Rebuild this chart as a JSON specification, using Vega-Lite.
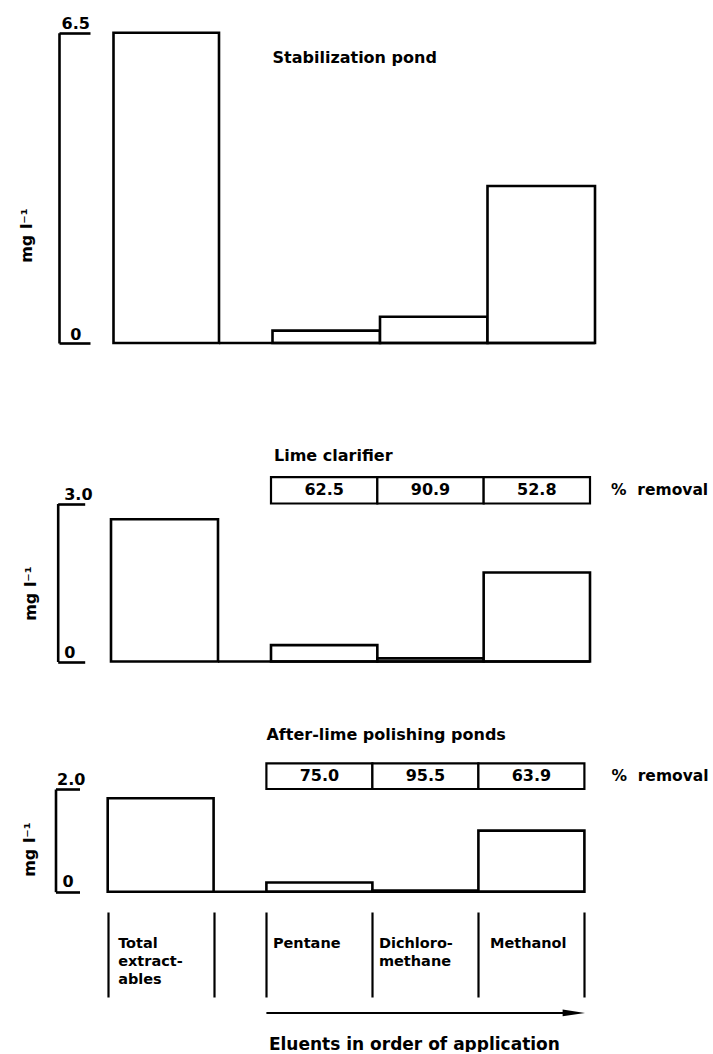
{
  "$schema": "https://vega.github.io/schema/vega-lite/v6.json",
  "padding": 0,
  "spacing": 0,
  "config": {
    "view": {"stroke": null},
    "text": {"font": "DejaVu Sans", "fontWeight": "bold", "color": "black"},
    "axis": {"labelFont": "DejaVu Sans", "titleFont": "DejaVu Sans", "labelFontWeight": "bold", "titleFontWeight": "bold", "labelColor": "black", "titleColor": "black", "tickColor": "black", "domainColor": "black", "grid": false}
  },
  "datasets": {
    "bars": [
      {"panel": "Stabilization pond", "fraction": "Total extractables", "value": 6.5},
      {"panel": "Stabilization pond", "fraction": "Pentane", "value": 0.26},
      {"panel": "Stabilization pond", "fraction": "Dichloromethane", "value": 0.55},
      {"panel": "Stabilization pond", "fraction": "Methanol", "value": 3.29},
      {"panel": "Lime clarifier", "fraction": "Total extractables", "value": 2.7},
      {"panel": "Lime clarifier", "fraction": "Pentane", "value": 0.31},
      {"panel": "Lime clarifier", "fraction": "Dichloromethane", "value": 0.06},
      {"panel": "Lime clarifier", "fraction": "Methanol", "value": 1.69},
      {"panel": "After-lime polishing ponds", "fraction": "Total extractables", "value": 1.82},
      {"panel": "After-lime polishing ponds", "fraction": "Pentane", "value": 0.18},
      {"panel": "After-lime polishing ponds", "fraction": "Dichloromethane", "value": 0.02},
      {"panel": "After-lime polishing ponds", "fraction": "Methanol", "value": 1.19}
    ],
    "removal": [
      {"panel": "Lime clarifier", "fraction": "Pentane", "removal": 62.5},
      {"panel": "Lime clarifier", "fraction": "Dichloromethane", "removal": 90.9},
      {"panel": "Lime clarifier", "fraction": "Methanol", "removal": 52.8},
      {"panel": "After-lime polishing ponds", "fraction": "Pentane", "removal": 75.0},
      {"panel": "After-lime polishing ponds", "fraction": "Dichloromethane", "removal": 95.5},
      {"panel": "After-lime polishing ponds", "fraction": "Methanol", "removal": 63.9}
    ]
  },
  "vconcat": [
    {
      "spacing": 0,
      "bounds": "flush",
      "hconcat": [
        {
          "width": 219,
          "height": 400,
          "data": {"name": "bars"},
          "transform": [{"filter": "datum.panel == 'Stabilization pond' && datum.fraction == 'Total extractables'"}],
          "mark": {"type": "bar", "fill": "white", "stroke": "black", "strokeWidth": 2.6},
          "encoding": {
            "x": {"field": "fraction", "type": "nominal", "scale": {"domain": ["Total extractables"], "range": [113.5, 219], "paddingInner": 0, "paddingOuter": 0}, "axis": null},
            "y": {"field": "value", "type": "quantitative", "scale": {"domain": [0, 6.5], "range": [343, 32.7], "nice": false},
              "axis": {"orient": "left", "offset": -59, "values": [0, 6.5], "labelExpr": "datum.value == 0 ? '\u200b\u00a0\u20090' : format(datum.value, '.1f')", "labelAlign": "left", "labelBaseline": "alphabetic", "labelPadding": 29, "labelOffset": -4, "labelFlush": false, "labelOverlap": false, "labelBound": false, "labelFontSize": 16, "tickSize": -31, "tickWidth": 2.6, "domainWidth": 2.6, "title": "mg l⁻¹", "titleX": -33, "titleY": 235, "titleAngle": 270, "titleAlign": "center", "titleBaseline": "middle", "titleFontSize": 16}}
          }
        },
        {
          "width": 376,
          "height": 400,
          "layer": [
            {
              "data": {"name": "bars"},
              "transform": [{"filter": "datum.panel == 'Stabilization pond' && datum.fraction != 'Total extractables'"}],
              "mark": {"type": "bar", "fill": "white", "stroke": "black", "strokeWidth": 2.6},
              "encoding": {
                "x": {"field": "fraction", "type": "nominal", "scale": {"domain": ["Pentane", "Dichloromethane", "Methanol"], "range": [53.5, 376], "paddingInner": 0, "paddingOuter": 0}, "axis": null},
                "y": {"field": "value", "type": "quantitative", "scale": {"domain": [0, 6.5], "range": [343, 32.7], "nice": false}, "axis": null}
              }
            },
            {
              "data": {"values": [{}]},
              "mark": {"type": "rule", "color": "black", "strokeWidth": 2.6},
              "encoding": {
                "y": {"datum": 0, "type": "quantitative", "scale": {"domain": [0, 6.5], "range": [343, 32.7], "nice": false}, "axis": null}
              }
            },
            {
              "data": {"values": [{}]},
              "mark": {"type": "text", "text": "Stabilization pond", "align": "left", "baseline": "alphabetic", "fontSize": 16},
              "encoding": {
                "x": {"datum": "Pentane", "type": "nominal", "bandPosition": 0, "scale": {"domain": ["Pentane", "Dichloromethane", "Methanol"], "range": [53.5, 376], "paddingInner": 0, "paddingOuter": 0}, "axis": null},
                "y": {"datum": 5.865, "type": "quantitative", "scale": {"domain": [0, 6.5], "range": [343, 32.7], "nice": false}, "axis": null}
              }
            }
          ]
        }
      ]
    },
    {
      "spacing": 0,
      "bounds": "flush",
      "hconcat": [
        {
          "width": 218,
          "height": 300,
          "data": {"name": "bars"},
          "transform": [{"filter": "datum.panel == 'Lime clarifier' && datum.fraction == 'Total extractables'"}],
          "mark": {"type": "bar", "fill": "white", "stroke": "black", "strokeWidth": 2.6},
          "encoding": {
            "x": {"field": "fraction", "type": "nominal", "scale": {"domain": ["Total extractables"], "range": [111, 218], "paddingInner": 0, "paddingOuter": 0}, "axis": null},
            "y": {"field": "value", "type": "quantitative", "scale": {"domain": [0, 3], "range": [261.5, 103.5], "nice": false},
              "axis": {"orient": "left", "offset": -57.7, "values": [0, 3], "labelExpr": "datum.value == 0 ? '0' : format(datum.value, '.1f')", "labelAlign": "left", "labelBaseline": "alphabetic", "labelPadding": 21, "labelOffset": -4.5, "labelFlush": false, "labelOverlap": false, "labelBound": false, "labelFontSize": 16, "tickSize": -27, "tickWidth": 2.6, "domainWidth": 2.6, "title": "mg l⁻¹", "titleX": -27, "titleY": 193, "titleAngle": 270, "titleAlign": "center", "titleBaseline": "middle", "titleFontSize": 16}}
          }
        },
        {
          "width": 372,
          "height": 300,
          "layer": [
            {
              "data": {"name": "bars"},
              "transform": [{"filter": "datum.panel == 'Lime clarifier' && datum.fraction != 'Total extractables'"}],
              "mark": {"type": "bar", "fill": "white", "stroke": "black", "strokeWidth": 2.6},
              "encoding": {
                "x": {"field": "fraction", "type": "nominal", "scale": {"domain": ["Pentane", "Dichloromethane", "Methanol"], "range": [53, 372], "paddingInner": 0, "paddingOuter": 0}, "axis": null},
                "y": {"field": "value", "type": "quantitative", "scale": {"domain": [0, 3], "range": [261.5, 103.5], "nice": false}, "axis": null}
              }
            },
            {
              "data": {"values": [{}]},
              "mark": {"type": "rule", "color": "black", "strokeWidth": 2.6},
              "encoding": {
                "y": {"datum": 0, "type": "quantitative", "scale": {"domain": [0, 3], "range": [261.5, 103.5], "nice": false}, "axis": null}
              }
            },
            {
              "data": {"values": [{}]},
              "mark": {"type": "text", "text": "Lime clarifier", "align": "left", "baseline": "alphabetic", "fontSize": 16, "dx": 3},
              "encoding": {
                "x": {"datum": "Pentane", "type": "nominal", "bandPosition": 0, "scale": {"domain": ["Pentane", "Dichloromethane", "Methanol"], "range": [53, 372], "paddingInner": 0, "paddingOuter": 0}, "axis": null},
                "y": {"datum": 3.807, "type": "quantitative", "scale": {"domain": [0, 3], "range": [261.5, 103.5], "nice": false}, "axis": null}
              }
            },
            {
              "data": {"name": "removal"},
              "transform": [{"filter": "datum.panel == 'Lime clarifier'"}],
              "mark": {"type": "rect", "fill": "white", "stroke": "black", "strokeWidth": 2.2},
              "encoding": {
                "x": {"field": "fraction", "type": "nominal", "scale": {"domain": ["Pentane", "Dichloromethane", "Methanol"], "range": [53, 372], "paddingInner": 0, "paddingOuter": 0}, "axis": null},
                "y": {"datum": 3.0, "type": "quantitative", "scale": {"domain": [0, 3], "range": [261.5, 103.5], "nice": false}, "axis": null},
                "y2": {"datum": 3.5}
              }
            },
            {
              "data": {"name": "removal"},
              "transform": [{"filter": "datum.panel == 'Lime clarifier'"}],
              "mark": {"type": "text", "baseline": "middle", "align": "center", "fontSize": 16, "letterSpacing": 1.5},
              "encoding": {
                "x": {"field": "fraction", "type": "nominal", "scale": {"domain": ["Pentane", "Dichloromethane", "Methanol"], "range": [53, 372], "paddingInner": 0, "paddingOuter": 0}, "axis": null},
                "y": {"datum": 3.25, "type": "quantitative", "scale": {"domain": [0, 3], "range": [261.5, 103.5], "nice": false}, "axis": null},
                "text": {"field": "removal", "type": "quantitative", "format": ".1f"}
              }
            },
            {
              "data": {"values": [{}]},
              "mark": {"type": "text", "text": "%\u00a0\u00a0removal", "align": "left", "baseline": "middle", "fontSize": 15.5, "dx": 21},
              "encoding": {
                "x": {"datum": "Methanol", "type": "nominal", "bandPosition": 1, "scale": {"domain": ["Pentane", "Dichloromethane", "Methanol"], "range": [53, 372], "paddingInner": 0, "paddingOuter": 0}, "axis": null},
                "y": {"datum": 3.25, "type": "quantitative", "scale": {"domain": [0, 3], "range": [261.5, 103.5], "nice": false}, "axis": null}
              }
            }
          ]
        }
      ]
    },
    {
      "spacing": 0,
      "bounds": "flush",
      "hconcat": [
        {
          "width": 213.6,
          "height": 200,
          "data": {"name": "bars"},
          "transform": [{"filter": "datum.panel == 'After-lime polishing ponds' && datum.fraction == 'Total extractables'"}],
          "mark": {"type": "bar", "fill": "white", "stroke": "black", "strokeWidth": 2.6},
          "encoding": {
            "x": {"field": "fraction", "type": "nominal", "scale": {"domain": ["Total extractables"], "range": [107.7, 213.6], "paddingInner": 0, "paddingOuter": 0},
              "axis": {"orient": "bottom", "offset": 12, "domain": false, "tickBand": "extent", "tickSize": 85, "tickWidth": 2.2, "labelExpr": "datum.label == 'Total extractables' ? ['Total', 'extract-', 'ables'] : ''", "labelAlign": "left", "labelBaseline": "middle", "labelAngle": 0, "labelOffset": -43, "labelPadding": -54, "labelLineHeight": 18, "labelFontSize": 14.5, "labelFlush": false, "labelOverlap": false, "labelBound": false, "title": null}},
            "y": {"field": "value", "type": "quantitative", "scale": {"domain": [0, 2], "range": [191.7, 89], "nice": false},
              "axis": {"orient": "left", "offset": -55.5, "values": [0, 2], "labelExpr": "datum.value == 0 ? '\u200b\u00a00' : format(datum.value, '.1f')", "labelAlign": "left", "labelBaseline": "alphabetic", "labelPadding": 23, "labelOffset": -5, "labelFlush": false, "labelOverlap": false, "labelBound": false, "labelFontSize": 16, "tickSize": -24, "tickWidth": 2.6, "domainWidth": 2.6, "title": "mg l⁻¹", "titleX": -26, "titleY": 149, "titleAngle": 270, "titleAlign": "center", "titleBaseline": "middle", "titleFontSize": 16}}
          }
        },
        {
          "width": 370.4,
          "height": 200,
          "layer": [
            {
              "data": {"name": "bars"},
              "transform": [{"filter": "datum.panel == 'After-lime polishing ponds' && datum.fraction != 'Total extractables'"}],
              "mark": {"type": "bar", "fill": "white", "stroke": "black", "strokeWidth": 2.6},
              "encoding": {
                "x": {"field": "fraction", "type": "nominal", "scale": {"domain": ["Pentane", "Dichloromethane", "Methanol"], "range": [52.4, 370.4], "paddingInner": 0, "paddingOuter": 0},
                  "axis": {"orient": "bottom", "offset": 12, "domain": false, "tickBand": "extent", "tickSize": 85, "tickWidth": 2.2, "labelExpr": "datum.label == 'Dichloromethane' ? ['Dichloro-', 'methane'] : datum.label == 'Methanol' ? '\u200b\u00a0Methanol' : datum.label", "labelAlign": "left", "labelBaseline": "middle", "labelAngle": 0, "labelOffset": -47, "labelPadding": -54, "labelLineHeight": 18, "labelFontSize": 14.5, "labelFlush": false, "labelOverlap": false, "labelBound": false,
                    "title": "Eluents in order of application", "titleX": 54.4, "titleY": 132, "titleAlign": "left", "titleBaseline": "middle", "titleAnchor": "start", "titleFontSize": 17}},
                "y": {"field": "value", "type": "quantitative", "scale": {"domain": [0, 2], "range": [191.7, 89], "nice": false}, "axis": null}
              }
            },
            {
              "data": {"values": [{}]},
              "mark": {"type": "rule", "color": "black", "strokeWidth": 2.6},
              "encoding": {
                "y": {"datum": 0, "type": "quantitative", "scale": {"domain": [0, 2], "range": [191.7, 89], "nice": false}, "axis": null}
              }
            },
            {
              "data": {"values": [{}]},
              "mark": {"type": "text", "text": "After-lime polishing ponds", "align": "left", "baseline": "alphabetic", "fontSize": 16},
              "encoding": {
                "x": {"datum": "Pentane", "type": "nominal", "bandPosition": 0, "scale": {"domain": ["Pentane", "Dichloromethane", "Methanol"], "range": [52.4, 370.4], "paddingInner": 0, "paddingOuter": 0}},
                "y": {"datum": 2.954, "type": "quantitative", "scale": {"domain": [0, 2], "range": [191.7, 89], "nice": false}, "axis": null}
              }
            },
            {
              "data": {"name": "removal"},
              "transform": [{"filter": "datum.panel == 'After-lime polishing ponds'"}],
              "mark": {"type": "rect", "fill": "white", "stroke": "black", "strokeWidth": 2.2},
              "encoding": {
                "x": {"field": "fraction", "type": "nominal", "scale": {"domain": ["Pentane", "Dichloromethane", "Methanol"], "range": [52.4, 370.4], "paddingInner": 0, "paddingOuter": 0}},
                "y": {"datum": 2.0, "type": "quantitative", "scale": {"domain": [0, 2], "range": [191.7, 89], "nice": false}, "axis": null},
                "y2": {"datum": 2.5}
              }
            },
            {
              "data": {"name": "removal"},
              "transform": [{"filter": "datum.panel == 'After-lime polishing ponds'"}],
              "mark": {"type": "text", "baseline": "middle", "align": "center", "fontSize": 16, "letterSpacing": 1.5},
              "encoding": {
                "x": {"field": "fraction", "type": "nominal", "scale": {"domain": ["Pentane", "Dichloromethane", "Methanol"], "range": [52.4, 370.4], "paddingInner": 0, "paddingOuter": 0}},
                "y": {"datum": 2.25, "type": "quantitative", "scale": {"domain": [0, 2], "range": [191.7, 89], "nice": false}, "axis": null},
                "text": {"field": "removal", "type": "quantitative", "format": ".1f"}
              }
            },
            {
              "data": {"values": [{}]},
              "mark": {"type": "text", "text": "%\u00a0\u00a0removal", "align": "left", "baseline": "middle", "fontSize": 15.5, "dx": 27},
              "encoding": {
                "x": {"datum": "Methanol", "type": "nominal", "bandPosition": 1, "scale": {"domain": ["Pentane", "Dichloromethane", "Methanol"], "range": [52.4, 370.4], "paddingInner": 0, "paddingOuter": 0}},
                "y": {"datum": 2.25, "type": "quantitative", "scale": {"domain": [0, 2], "range": [191.7, 89], "nice": false}, "axis": null}
              }
            },
            {
              "data": {"values": [{}]},
              "mark": {"type": "rule", "color": "black", "strokeWidth": 2},
              "encoding": {
                "x": {"datum": "Pentane", "type": "nominal", "bandPosition": 0, "scale": {"domain": ["Pentane", "Dichloromethane", "Methanol"], "range": [52.4, 370.4], "paddingInner": 0, "paddingOuter": 0}},
                "x2": {"datum": "Methanol", "bandPosition": 0.88},
                "y": {"datum": -2.36, "type": "quantitative", "scale": {"domain": [0, 2], "range": [191.7, 89], "nice": false}, "axis": null}
              }
            },
            {
              "data": {"values": [{}]},
              "mark": {"type": "point", "shape": "M-1,-0.3L1,0L-1,0.3Z", "size": 500, "filled": true, "color": "black", "opacity": 1},
              "encoding": {
                "x": {"datum": "Methanol", "type": "nominal", "bandPosition": 0.9, "scale": {"domain": ["Pentane", "Dichloromethane", "Methanol"], "range": [52.4, 370.4], "paddingInner": 0, "paddingOuter": 0}},
                "y": {"datum": -2.36, "type": "quantitative", "scale": {"domain": [0, 2], "range": [191.7, 89], "nice": false}, "axis": null}
              }
            }
          ]
        }
      ]
    }
  ]
}
